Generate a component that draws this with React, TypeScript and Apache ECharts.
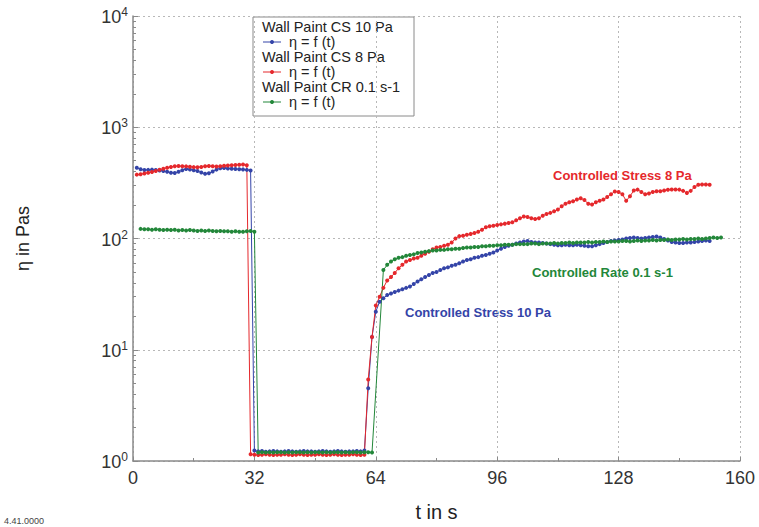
import React, { useEffect, useRef } from "react";
import * as echarts from "echarts";

// Sampling: one reading per second, t = 1 s, 2 s, ...
const SAMPLE_STEP_S = 1;

const X_MIN = 0;
const X_MAX = 160;
const X_INTERVAL = 32;
const Y_MIN = 1;
const Y_MAX = 10000;

// Wall Paint CS 10 Pa  (η in Pas)
const BLUE_CS10: (number | null)[] = [
  432, 420, 412, 414, 416, 412, 408, 405, 398, 390,
  388, 398, 410, 422, 418, 410, 404, 392, 382, 386,
  400, 416, 428, 430, 426, 424, 422, 420, 418, 414,
  408, 1.24, 1.22, 1.23, 1.21, 1.22, 1.23, 1.22, 1.21, 1.22,
  1.23, 1.22, 1.21, 1.22, 1.23, 1.22, 1.22, 1.21, 1.22, 1.23,
  1.22, 1.21, 1.22, 1.23, 1.22, 1.21, 1.22, 1.22, 1.23, 1.22,
  1.24, 4.5, 13, 22, 27, 29, 31, 32, 33, 34,
  35, 36, 37, 39, 41, 43, 45, 47, 49, 50,
  52, 54, 55, 57, 58, 60, 62, 64, 65, 67,
  68, 70, 71, 73, 75, 78, 81, 84, 86, 88,
  90, 92, 94, 95, 93, 92, 92, 91, 90, 89,
  88, 87, 87, 88, 87, 87, 88, 87, 86, 85,
  85, 87, 89, 91, 93, 95, 96, 97, 98, 100,
  101, 102, 101, 100, 101, 102, 103, 104, 102, 99,
  96, 93, 92, 91, 91, 92, 92, 93, 94, 95,
  96, 95, null, null, null,
];

// Wall Paint CS 8 Pa
const RED_CS8: (number | null)[] = [
  375, 378, 384, 390, 396, 405, 415, 424, 432, 440,
  446, 448, 446, 445, 442, 438, 436, 440, 446, 448,
  446, 444, 446, 450, 454, 456, 458, 460, 462, 455,
  1.15, 1.14, 1.13, 1.14, 1.15, 1.14, 1.13, 1.14, 1.14, 1.15,
  1.14, 1.13, 1.14, 1.15, 1.14, 1.13, 1.14, 1.14, 1.15, 1.14,
  1.13, 1.14, 1.15, 1.14, 1.13, 1.14, 1.14, 1.15, 1.14, 1.13,
  1.14, 5.4, 13, 25, 30, 36, 42, 45, 49, 54,
  58, 62, 64, 66, 67, 70, 73, 76, 80, 83,
  84, 86, 88, 92, 100, 105, 106, 108, 110, 112,
  115, 120, 126, 129, 130, 132, 134, 136, 138, 140,
  146, 152, 158, 156, 152, 150, 152, 160, 166, 170,
  176, 182, 195, 205, 212, 216, 224, 230, 222, 205,
  202, 212, 218, 224, 236, 250, 264, 262, 250, 218,
  240, 270, 275, 262, 250, 254, 262, 266, 266, 270,
  274, 276, 276, 275, 268, 257, 268, 290, 304, 306,
  306, 304, null, null, null,
];

// Wall Paint CR 0.1 s-1
const GREEN_CR01: (number | null)[] = [
  null, 122, 121, 121, 120, 121, 120, 119, 120, 119,
  120, 118, 119, 118, 119, 118, 117, 118, 117, 118,
  117, 116, 117, 116, 116, 115, 116, 115, 115, 116,
  117, 115, 1.19, 1.2, 1.19, 1.2, 1.19, 1.2, 1.2, 1.19,
  1.2, 1.19, 1.2, 1.2, 1.19, 1.2, 1.19, 1.2, 1.2, 1.19,
  1.2, 1.19, 1.2, 1.2, 1.19, 1.2, 1.19, 1.2, 1.2, 1.19,
  1.2, 1.2, 1.19, null, null, 52, 58, 62, 65, 67,
  68, 70, 71, 72, 74, 75, 76, 77, 78, 78,
  79, 79, 80, 80, 81, 81, 82, 83, 83, 84,
  84, 85, 85, 86, 86, 87, 87, 88, 88, 88,
  89, 89, 89, 89, 90, 90, 89, 90, 90, 90,
  91, 90, 91, 91, 92, 91, 92, 92, 92, 93,
  92, 93, 93, 94, 93, 94, 94, 94, 95, 95,
  94, 95, 96, 95, 96, 96, 97, 96, 97, 97,
  98, 97, 98, 98, 99, 98, 99, 99, 100, 99,
  100, 101, 102, 101, 102,
];

const SERIES_TITLES = ["Wall Paint CS 10 Pa", "Wall Paint CS 8 Pa", "Wall Paint CR 0.1 s-1"];
const SERIES_LABEL = "η = f (t)";
const ANNOTATION_TEXTS = ["Controlled Stress 8 Pa", "Controlled Rate 0.1 s-1", "Controlled Stress 10 Pa"];
const X_NAME = "t in s";
const Y_NAME = "η in Pas";
const FOOTER = "4.41.0000";

const BLUE = "#3444a8";
const RED = "#e5282c";
const GREEN = "#23873a";
const COLORS = [BLUE, RED, GREEN];
const FONT = "'Liberation Sans', Arial, Helvetica, sans-serif";

const toPoints = (vals: (number | null)[]) =>
  vals
    .map((v, i) => [(i + 1) * SAMPLE_STEP_S, v])
    .filter((p) => p[1] !== null) as number[][];

export default function App() {
  const ref = useRef<HTMLDivElement>(null);

  useEffect(() => {
    if (!ref.current) return;
    const chart = echarts.init(ref.current, null, { renderer: "svg" });

    const datasets = [BLUE_CS10, RED_CS8, GREEN_CR01];

    const legendX = 253;
    const legendY = 17;
    const rowH = 15;
    const legendChildren: any[] = [
      {
        type: "rect",
        shape: { x: legendX, y: legendY, width: 161, height: 99 },
        style: { fill: "#fff", stroke: "#8a8a8a", lineWidth: 1 },
      },
    ];
    SERIES_TITLES.forEach((title, i) => {
      const yTitle = legendY + 10 + i * 2 * rowH;
      const yItem = yTitle + rowH;
      legendChildren.push({
        type: "text",
        style: {
          text: title, x: legendX + 9, y: yTitle, fill: "#222",
          font: `14.5px ${FONT}`, verticalAlign: "middle", lineHeight: 14,
        },
      });
      legendChildren.push({
        type: "line",
        shape: { x1: legendX + 10, y1: yItem, x2: legendX + 28, y2: yItem },
        style: { stroke: COLORS[i], lineWidth: 1 },
      });
      legendChildren.push({
        type: "circle",
        shape: { cx: legendX + 19, cy: yItem, r: 2 },
        style: { fill: COLORS[i] },
      });
      legendChildren.push({
        type: "text",
        style: {
          text: SERIES_LABEL, x: legendX + 36, y: yItem, fill: "#222",
          font: `14.5px ${FONT}`, verticalAlign: "middle", lineHeight: 14,
        },
      });
    });

    const annotationPos = [
      { x: 553, y: 175, color: RED },
      { x: 532, y: 272, color: GREEN },
      { x: 405, y: 312, color: BLUE },
    ];
    const annotations = ANNOTATION_TEXTS.map((t, i) => ({
      type: "text",
      style: {
        text: t, x: annotationPos[i].x, y: annotationPos[i].y,
        fill: annotationPos[i].color, font: `bold 13px ${FONT}`,
        verticalAlign: "middle",
      },
    }));

    const axisLine = { show: true, lineStyle: { color: "#8a8a8a", width: 1.5 } };
    const splitLine = { show: true, lineStyle: { color: "#b8b8b8", type: [2, 3], width: 1 } };

    chart.setOption({
      animation: false,
      backgroundColor: "#fff",
      textStyle: { fontFamily: FONT },
      grid: { left: 133, right: 19, top: 16, bottom: 64, containLabel: false },
      xAxis: {
        type: "value",
        min: X_MIN,
        max: X_MAX,
        interval: X_INTERVAL,
        axisLine,
        axisTick: { show: true, inside: true, length: 4, lineStyle: { color: "#8a8a8a" } },
        minorTick: { show: true, splitNumber: 2, length: 3, lineStyle: { color: "#8a8a8a" } },
        splitLine,
        axisLabel: { fontSize: 18, color: "#333", margin: 8, fontFamily: FONT },
        name: X_NAME,
        nameLocation: "middle",
        nameGap: 41,
        nameTextStyle: { fontSize: 20, color: "#222", fontFamily: FONT },
      },
      yAxis: {
        type: "log",
        logBase: 10,
        min: Y_MIN,
        max: Y_MAX,
        axisLine,
        axisTick: { show: true, inside: true, length: 5, lineStyle: { color: "#8a8a8a" } },
        minorTick: { show: true, splitNumber: 9, length: 3, lineStyle: { color: "#8a8a8a" } },
        splitLine,
        axisLabel: {
          margin: 5,
          color: "#333",
          formatter: (v: number) => `{b|10}{s|${Math.round(Math.log10(v))}}`,
          rich: {
            b: { fontSize: 18, color: "#333", fontFamily: FONT, verticalAlign: "bottom" },
            s: { fontSize: 12, color: "#333", fontFamily: FONT, verticalAlign: "bottom", padding: [0, 0, 8, 0] },
          },
        },
        name: Y_NAME,
        nameLocation: "middle",
        nameGap: 101,
        nameRotate: 90,
        nameTextStyle: { fontSize: 18, color: "#222", fontFamily: FONT },
      },
      series: datasets.map((vals, i) => ({
        type: "line",
        name: SERIES_TITLES[i],
        data: toPoints(vals),
        symbol: "circle",
        symbolSize: 4,
        showSymbol: true,
        showAllSymbol: true,
        itemStyle: { color: COLORS[i] },
        lineStyle: { color: COLORS[i], width: 1 },
        emphasis: { disabled: true },
      })),
      graphic: [
        ...legendChildren,
        ...annotations,
        {
          type: "text",
          style: { text: FOOTER, x: 4, y: 521, fill: "#444", font: `9px ${FONT}`, verticalAlign: "middle" },
        },
      ],
    });

    return () => chart.dispose();
  }, []);

  return (
    <div
      ref={ref}
      style={{ position: "absolute", left: 0, top: 0, width: 759, height: 527 }}
    />
  );
}
